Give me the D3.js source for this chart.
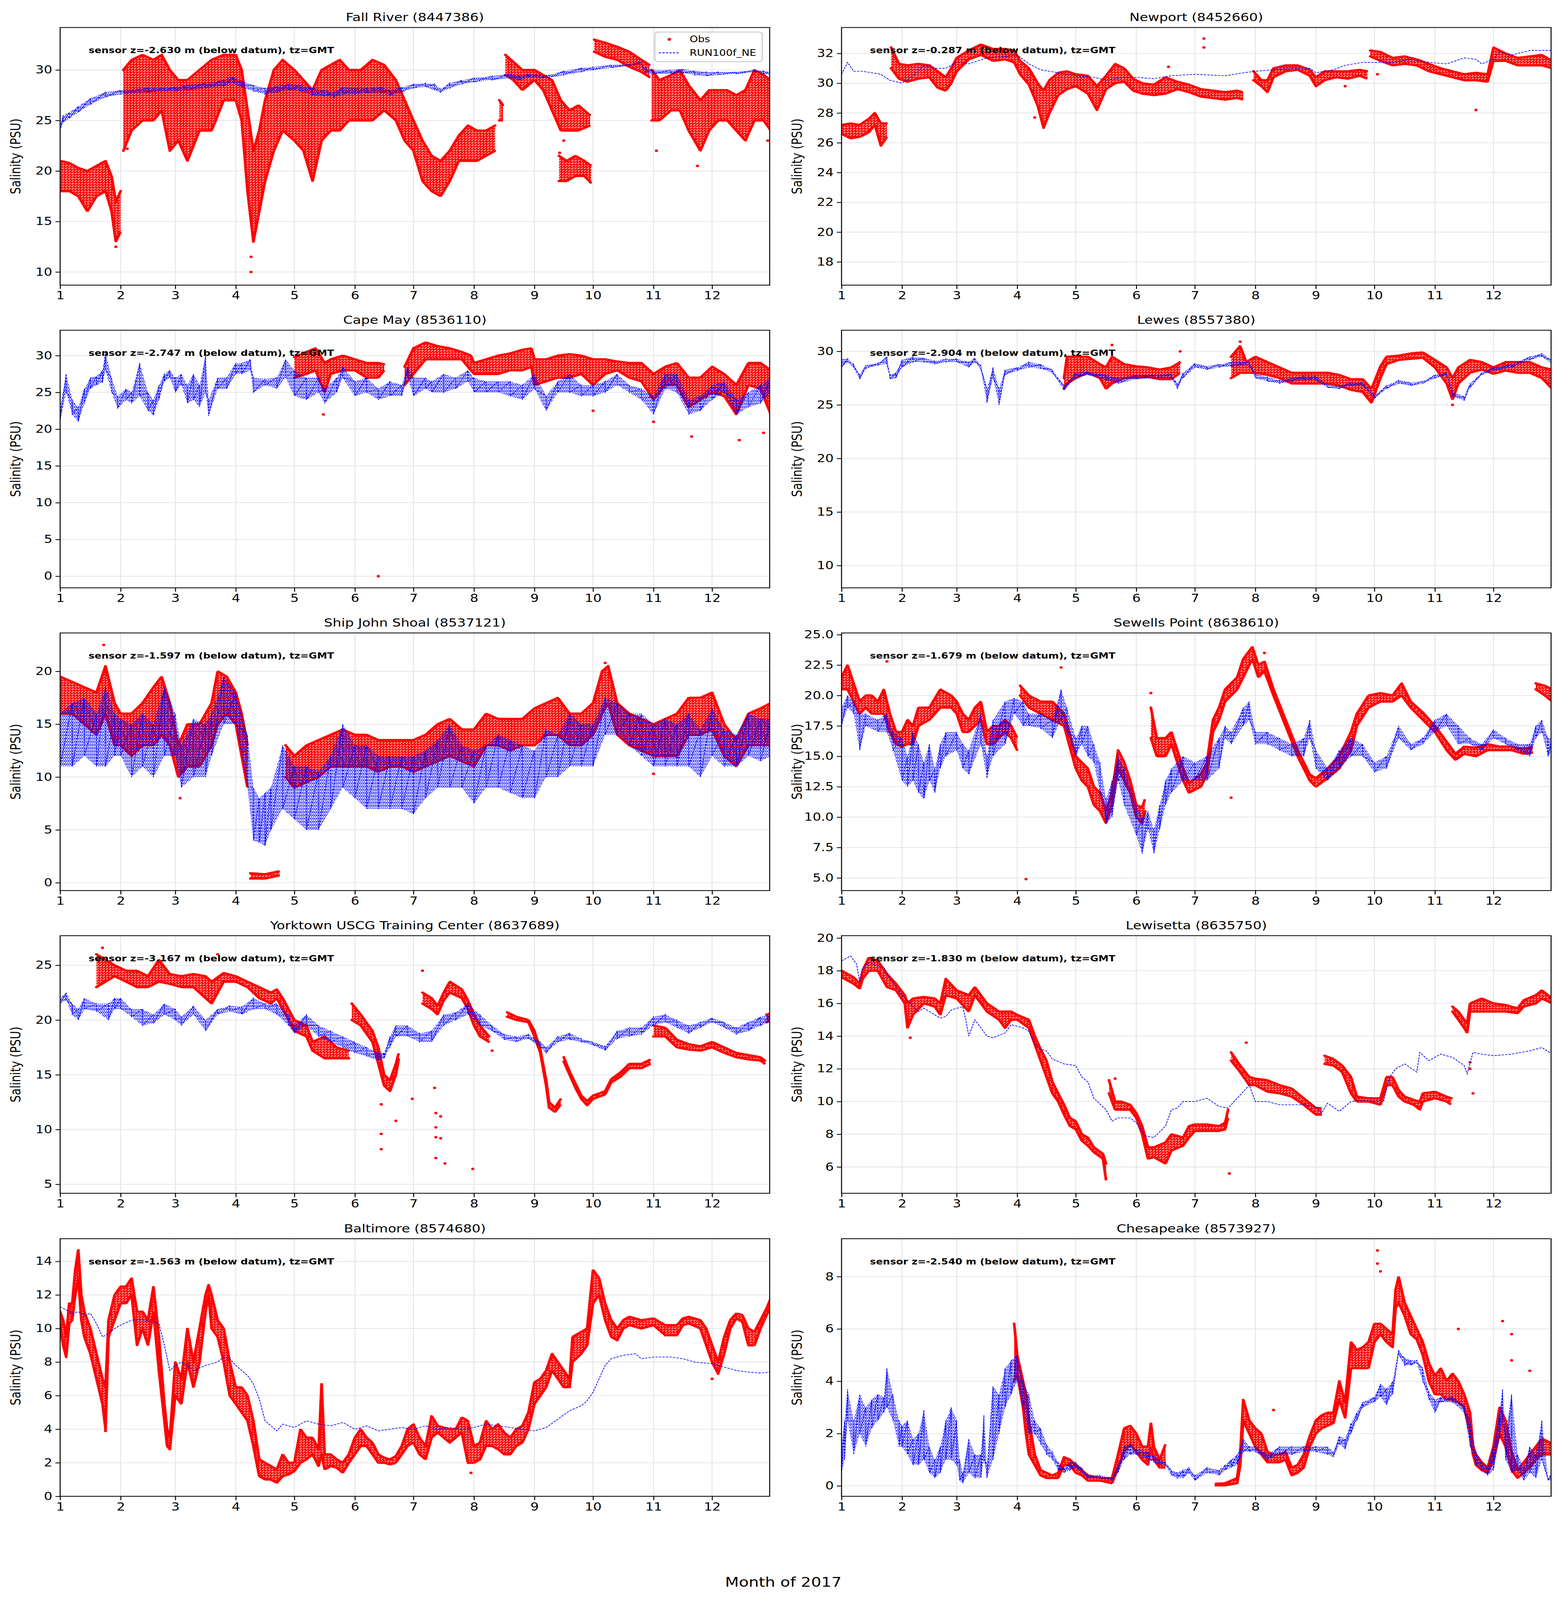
<!DOCTYPE html>
<html>
<head>
<meta charset="utf-8">
<script src="https://cdn.jsdelivr.net/npm/d3@7"></script>
<style>
  html, body { margin: 0; background: #fff; overflow: hidden; }
  svg { display: block; width: 100vw; height: 100vh; }
  text { font-family: "DejaVu Sans", sans-serif; }
</style>
</head>
<body>
<svg id="fig" viewBox="0 0 4000 5000" preserveAspectRatio="none"></svg>
<script>
// ---- data (time as month + fraction of month, salinity in PSU) ----
// obs / model rows are [t, low, high]; null marks a gap
const titles = ["Fall River (8447386)", "Newport (8452660)", "Cape May (8536110)", "Lewes (8557380)",
  "Ship John Shoal (8537121)", "Sewells Point (8638610)", "Yorktown USCG Training Center (8637689)",
  "Lewisetta (8635750)", "Baltimore (8574680)", "Chesapeake (8573927)"];
const sensorZ = ["-2.630", "-0.287", "-2.747", "-2.904", "-1.597", "-1.679", "-3.167", "-1.830", "-1.563", "-2.540"];
const yDomains = [[8.7, 34.2], [16.44, 33.74], [-1.58, 33.45], [7.92, 31.97], [-0.74, 23.63],
  [3.96, 25.14], [4.18, 27.7], [4.39, 20.14], [0, 15.35], [-0.4, 9.45]];
const yTicks = [[10, 15, 20, 25, 30], [18, 20, 22, 24, 26, 28, 30, 32], [0, 5, 10, 15, 20, 25, 30],
  [10, 15, 20, 25, 30], [0, 5, 10, 15, 20], [5, 7.5, 10, 12.5, 15, 17.5, 20, 22.5, 25],
  [5, 10, 15, 20, 25], [6, 8, 10, 12, 14, 16, 18, 20], [0, 2, 4, 6, 8, 10, 12, 14], [0, 2, 4, 6, 8]];
const monthTicks = [1, 2, 3, 4, 5, 6, 7, 8, 9, 10, 11, 12];

const frObs = [[1.0,18,21],[1.15,18,20.8],[1.3,17.5,20.3],[1.45,16,20],[1.6,17.5,20.5],[1.75,18,21],[1.85,16,19.5],[1.92,13,17],[2.0,14,18],null,
  [2.05,22,30],[2.2,24,31],[2.4,25,31.5],[2.6,25,31],[2.75,26,31.5],[2.9,22,30],[3.05,23,29],[3.2,21,29],[3.4,24,30],[3.6,24,31],[3.8,27,31.5],[4.0,27,31.5],
  [4.1,25,30],[4.2,18,26],[4.3,13,22],[4.4,16,24],[4.5,19,27],[4.65,22,30],[4.8,24,31],[5.0,23,30],[5.15,22,29],[5.3,19,28],[5.45,23,30],[5.6,24,30.5],
  [5.75,24,31],[5.9,25,30],[6.1,25,30],[6.3,25,31],[6.5,26,30.5],[6.7,25,29],[6.85,23,27],[7.0,22,25],[7.15,19,23],[7.3,18,21.5],[7.45,17.5,21],[7.6,19,22],
  [7.75,21,23.5],[7.9,21,24.5],[8.05,21,24],[8.2,21.5,24],[8.35,22,24.5],null,[8.42,25,27],[8.48,25,26.5],null,[8.52,29.5,31.5],[8.65,29,30.8],[8.8,28,30],
  [9.0,29,30],[9.15,28,29.5],[9.3,26,29],[9.45,24,27],[9.6,24,26],[9.75,24,26.5],[9.95,24.5,25.5],null,[10.02,31.8,33],[10.2,31.3,32.7],[10.4,31,32.3],
  [10.6,30.3,31.8],[10.8,29.8,31],[10.93,29.3,30.5],null,[10.97,25,30],[11.1,25,29],[11.3,26,29.5],[11.45,26,30],[11.6,24,28.5],[11.8,22,27],[11.95,24,28],
  [12.1,25,28],[12.25,25,28],[12.4,24,27.5],[12.55,23,28],[12.7,25,30],[12.85,25,29.5],[12.97,24,29]];
const frObs2 = [[9.42,19,21.5],[9.55,19,21],[9.7,19.5,21.5],[9.85,19.5,21],[9.97,18.8,20.5]];
const frModel = [[1.0,24.0,24.6],[1.05,24.8,25.5],[1.15,25.2,25.8],[1.3,25.8,26.4],[1.5,26.6,27.2],[1.75,27.3,27.8],[2.0,27.6,28.0],[2.5,27.8,28.2],
  [2.8,27.9,28.2],[3.0,27.9,28.3],[3.2,28.0,28.5],[3.5,28.2,28.7],[3.8,28.4,29.0],[3.95,28.7,29.3],[4.1,28.3,28.9],[4.3,27.9,28.5],[4.5,27.6,28.2],
  [4.7,27.8,28.4],[4.9,28.0,28.6],[5.1,27.9,28.5],[5.3,27.5,28.2],[5.5,27.4,28.0],[5.65,27.3,27.8],[5.8,27.6,28.3],[6.0,27.6,28.2],[6.2,27.7,28.2],
  [6.45,27.8,28.3],[6.6,27.5,28.0],[6.8,27.8,28.3],[7.0,28.2,28.6],[7.2,28.3,28.7],[7.35,28.0,28.6],[7.45,27.8,28.1],[7.6,28.2,28.7],[7.8,28.6,29.0],
  [8.0,28.8,29.2],[8.3,29.0,29.4],[8.6,29.2,29.6],[8.75,29.0,29.4],[8.9,29.3,29.6],[9.1,29.2,29.5],[9.25,29.2,29.5],[9.5,29.5,29.9],[9.8,29.8,30.2],
  [10.0,30.0,30.3],[10.3,30.2,30.5],[10.6,30.4,30.6],[10.8,30.5,30.8],[10.85,29.8,30.2],[11.0,29.6,30.0],[11.3,29.6,30.0],[11.5,29.7,30.1],
  [11.7,29.5,29.9],[11.9,29.4,29.8],[12.1,29.5,29.8],[12.4,29.6,29.8],[12.7,29.8,30.0],[12.85,29.6,29.9],[12.97,29.5,29.8]];
const frPts = [[1.92,12.5],[4.26,10.0],[4.26,11.5],[4.3,13.5],[4.35,14.5],[2.12,22.2],[9.43,21.8],[12.92,23.0],[11.05,22],[11.75,20.5],[9.5,23]];

const nwObs = [[1.0,26.6,27.2],[1.15,26.3,27.3],[1.3,26.4,27.2],[1.45,26.7,27.6],[1.55,27.2,28.0],[1.65,25.8,27.3],[1.75,26.4,27.3],null,
  [1.82,31.0,32.4],[1.95,30.3,31.3],[2.1,30.1,31.2],[2.3,30.3,31.3],[2.5,30.4,31.2],[2.65,29.7,30.8],[2.8,29.5,30.4],[2.9,30.0,31.0],[3.0,30.8,31.7],
  [3.2,31.6,32.2],[3.4,31.9,32.6],[3.6,31.5,32.3],[3.8,31.6,32.3],[3.95,31.4,32.2],[4.05,30.6,31.5],[4.2,29.9,31.0],[4.35,28.5,30.0],[4.45,27.0,29.5],
  [4.55,28.0,30.2],[4.7,29.2,30.7],[4.85,29.6,30.8],[5.0,29.8,30.6],[5.2,29.3,30.5],[5.35,28.2,29.8],[5.5,29.6,30.5],[5.65,30.0,31.3],[5.8,30.1,31.0],
  [5.95,29.5,30.3],[6.1,29.3,30.0],[6.3,29.2,29.9],[6.5,29.3,30.4],[6.7,29.6,30.1],[6.9,29.4,29.9],[7.1,29.1,29.6],[7.3,29.0,29.5],[7.5,28.9,29.4],
  [7.7,29.0,29.5],[7.8,28.9,29.4],null,[7.97,30.2,30.8],[8.1,29.8,30.2],[8.2,29.4,30.2],[8.3,30.4,31.0],[8.5,30.8,31.2],[8.7,30.9,31.2],[8.9,30.5,30.9],
  [9.0,29.8,30.4],[9.15,30.2,30.8],[9.35,30.4,30.8],[9.55,30.3,30.8],[9.75,30.5,30.9],[9.88,30.3,30.8],null,[9.93,31.8,32.2],[10.1,31.5,32.1],
  [10.3,31.2,31.7],[10.5,31.3,31.8],[10.7,31.2,31.6],[10.9,30.8,31.3],[11.1,30.6,31.0],[11.3,30.4,30.8],[11.5,30.2,30.6],[11.7,30.2,30.7],
  [11.9,30.1,30.6],[12.0,31.5,32.4],[12.2,31.5,32.0],[12.4,31.2,31.7],[12.6,31.2,31.8],[12.8,31.2,31.9],[12.97,31.0,31.5]];
const nwModel = [[1.0,30.6],[1.1,31.4],[1.2,30.8],[1.35,30.8],[1.5,30.7],[1.65,30.6],[1.8,30.2],[2.0,30.0],[2.2,30.5],[2.4,31.2],[2.6,31.0],[2.8,31.0],
  [3.0,31.4],[3.2,31.3],[3.5,31.7],[3.8,31.8],[4.0,31.9],[4.2,31.3],[4.4,30.9],[4.7,30.7],[5.0,30.5],[5.3,30.4],[5.5,30.2],[5.8,30.4],[6.0,30.4],
  [6.3,30.3],[6.6,30.5],[7.0,30.6],[7.5,30.5],[7.8,30.7],[8.0,30.8],[8.3,30.9],[8.6,31.0],[8.9,31.0],[9.0,30.7],[9.3,30.9],[9.5,31.2],[9.8,31.4],
  [10.0,31.4],[10.3,31.4],[10.6,31.6],[10.9,31.4],[11.2,31.3],[11.5,31.7],[11.7,31.6],[11.8,31.3],[12.0,31.6],[12.1,32.1],[12.3,31.9],[12.6,32.2],[12.97,32.2]];
const nwPts = [[7.15,33.0],[7.15,32.4],[11.7,28.2],[6.55,31.1],[9.5,29.8],[10.05,30.6],[4.3,27.7]];

const cmObs = [[5.0,27,29.8],[5.2,27.5,30.5],[5.35,28,31],[5.5,25,29],[5.6,27.5,29.5],[5.8,28,30],[6.0,28,29.5],[6.2,27,29],[6.4,27,29],[6.5,28,28.8],null,
  [6.85,26,28.5],[7.0,27.5,31],[7.2,29.5,31.8],[7.4,29.5,31.3],[7.6,29.5,31.0],[7.8,29.5,30.5],[7.95,28,30],[8.0,27.5,29],[8.2,27.5,29.5],[8.4,27.5,30],
  [8.6,28,30.3],[8.8,28,30.8],[8.95,28.5,31],[9.0,26,29.5],[9.2,26.5,29.5],[9.4,27,30],[9.6,27,30.2],[9.8,27.5,30],[10.0,26,29.5],[10.2,27.5,29.5],
  [10.4,28,29.2],[10.6,27,29],[10.8,26.5,29],[11.0,24,27.5],[11.2,26,28.5],[11.4,26,29],[11.6,23,27],[11.8,24,27],[12.0,25,28.5],[12.2,24.5,27.5],
  [12.4,22,26],[12.6,26,29],[12.8,25.5,29],[12.97,22,28]];
const cmModel = [[1.0,21.2,23],[1.1,25,27.5],[1.2,22,24],[1.3,21,23],[1.4,23.5,25.5],[1.5,25.5,27],[1.6,26,27.2],[1.7,26.3,28],[1.75,28,30.5],[1.85,25,27],
  [1.95,22.8,24.5],[2.1,24,25.5],[2.2,23.5,25],[2.35,24.5,29],[2.5,22.5,25],[2.6,21.9,24],[2.7,24,26],[2.8,26.5,27.5],[2.9,27,28],[3.0,25,27],[3.1,26,27.5],
  [3.2,23.5,26],[3.3,24,27.5],[3.4,23,26],[3.5,25,30],[3.55,21.8,24],[3.7,25.5,27],[3.85,25.5,27],[4.0,27.5,29],[4.1,27.5,29],[4.25,28,29.5],[4.3,25,27],
  [4.5,26,26.8],[4.7,25.5,27],[4.85,27,29.5],[5.0,24.5,28],[5.2,24,27],[5.4,25,27],[5.5,23.5,25.5],[5.7,25,27],[5.8,27,28.5],[6.0,24.5,26.5],[6.2,25,27],
  [6.4,24,25.5],[6.6,24.5,26.5],[6.8,24.5,26],[6.9,27,28.5],[7.0,24.5,27],[7.2,25.5,27],[7.3,25,26.5],[7.5,25,27.5],[7.7,25.5,27],[7.9,26.5,28],[8.0,25,27],
  [8.2,25,26.5],[8.4,25,26.5],[8.6,24.5,26.5],[8.8,24,26],[9.0,25.5,27.5],[9.2,22.5,24.5],[9.4,25,26.5],[9.6,25,27.5],[9.8,24.5,26],[10.0,24.5,26],
  [10.2,25,26.5],[10.4,26,27.5],[10.6,25,26],[10.8,24,25.5],[11.0,22,24.5],[11.2,25.5,27.5],[11.4,25,27.5],[11.6,22,24],[11.8,22.5,24.5],[12.0,24,26],
  [12.2,25,26.5],[12.4,22,24],[12.6,23,25],[12.8,23.5,26],[12.97,25,27]];
const cmPts = [[6.4,0.0],[5.48,22.0],[11.65,19.0],[12.45,18.5],[11.0,21.0],[12.85,19.5],[10.0,22.5]];

const lwObs = [[4.8,26.5,27.5],[4.85,27,29.5],[5.0,27.5,29.5],[5.2,28,29.5],[5.4,27.5,28.8],[5.5,26.5,28.5],[5.6,27,29.5],[5.8,27.5,28.8],[6.0,27.6,28.6],
  [6.2,27.6,28.5],[6.4,27.4,28.3],[6.6,27.4,28.5],[6.75,28,29],null,[7.6,27.5,29.5],[7.75,28,30.5],[7.85,28,29],[8.0,28,29.5],[8.2,27.8,29],[8.4,27.5,28.5],
  [8.6,27,28],[8.8,27,28],[9.0,27,28],[9.2,27,28],[9.4,26.8,27.8],[9.6,26.4,27.4],[9.8,26.2,27.4],[9.95,25.2,26.5],[10.1,27.5,28.6],[10.2,28.8,29.5],
  [10.4,29.2,29.6],[10.6,29.3,29.8],[10.8,29.4,29.9],[11.0,28.5,29.2],[11.2,27,28.5],[11.3,25.5,27.5],[11.4,27,28.5],[11.6,28,29.2],[11.8,28.3,29],
  [12.0,27.9,28.5],[12.2,28.2,29],[12.4,28,29],[12.6,28,29],[12.8,27.5,28.5],[12.97,26.5,28.3]];
const lwModel = [[1.0,28.5,29.3],[1.1,29,29.3],[1.2,28.5,28.8],[1.3,27.4,27.8],[1.4,28.4,28.7],[1.6,28.7,28.9],[1.75,28.8,29.5],[1.8,27.4,27.8],
  [1.9,27.5,28],[2.0,28.5,29.2],[2.2,29.0,29.5],[2.4,29.0,29.4],[2.6,28.8,29.1],[2.8,29.0,29.3],[3.0,29.0,29.3],[3.2,28.5,29],[3.3,29,29.4],
  [3.4,28.3,28.7],[3.5,25.2,26.5],[3.6,27.5,28.5],[3.7,25,26.5],[3.8,27.8,28.3],[4.0,28.2,28.5],[4.2,28.5,29],[4.4,28.4,28.8],[4.6,28.0,28.3],
  [4.8,26.4,26.8],[5.0,27.5,28],[5.2,27.8,28.1],[5.5,27.3,27.8],[5.7,27.0,27.5],[6.0,27.4,27.8],[6.3,27.5,27.8],[6.6,27.5,27.9],[6.7,26.5,27],
  [6.8,27.5,28],[7.0,28.5,28.9],[7.2,28.3,28.6],[7.4,28.5,28.8],[7.6,28.6,29],[7.9,28.7,29],[8.0,27.5,27.9],[8.2,27.2,27.6],[8.4,27.0,27.3],
  [8.6,27.2,27.5],[8.8,27.3,27.7],[9.0,27.3,27.7],[9.2,26.6,26.9],[9.4,26.5,26.8],[9.6,26.8,27.1],[9.8,26.8,27.1],[10.0,25.6,25.9],[10.2,26.5,26.8],
  [10.4,27.0,27.3],[10.6,26.8,27.1],[10.8,27.0,27.2],[11.0,27.5,27.8],[11.2,27.8,28],[11.3,25.8,26.2],[11.5,25.4,25.8],[11.6,26.6,27],[11.8,27.8,28],
  [12.0,28.2,28.5],[12.3,28.5,28.8],[12.6,29.2,29.5],[12.8,29.5,29.8],[12.97,28.8,29.2]];
const lwPts = [[5.6,30.6],[6.75,30.0],[7.75,30.9],[11.3,25.0],[12.97,30.0]];

const sjObs = [[1.0,16,19.5],[1.2,16,19],[1.4,15,18.5],[1.6,14,18],[1.75,16,20.5],[1.9,13,17],[2.0,13,16],[2.2,12,16],[2.4,13,17],[2.6,13,18.5],
  [2.75,14,19.5],[2.9,13,17],[3.05,10,13],[3.2,11,15],[3.4,11,15],[3.6,13,17],[3.7,15,20],[3.85,16,19.5],[4.0,15,18],[4.1,12,16],[4.2,9,13],null,
  [4.85,10,13],[5.0,9,12],[5.2,9.5,13],[5.4,10,13.5],[5.6,11,14],[5.8,11,14.5],[6.0,11,14],[6.2,11,14],[6.4,10.5,13.5],[6.6,11,13.5],[6.8,11,13.5],
  [7.0,10.5,13.5],[7.2,11,14],[7.4,11.5,15],[7.6,12,15.5],[7.8,11.5,14.5],[8.0,11,14.5],[8.2,13,16],[8.4,13,15.5],[8.6,12.5,15.5],[8.8,13,15.5],
  [9.0,13,16.5],[9.2,14,17],[9.4,14,17.5],[9.6,13,16],[9.8,13,16],[10.0,14,17],[10.15,16,20],[10.25,17,20.5],[10.4,14,17],[10.6,13,16],[10.8,12.5,15.5],
  [11.0,12,15],[11.2,12,15.5],[11.4,12,16],[11.6,14,17.5],[11.8,14,17.5],[12.0,14.5,18],[12.2,12,15],[12.4,11,13.5],[12.6,13,16],[12.8,13,16.5],[12.97,13,17]];
const sjObs2 = [[4.25,0.4,0.9],[4.5,0.4,0.8],[4.75,0.7,1.1]];
const sjModel = [[1.0,11,16],[1.2,11,17],[1.4,12,17.5],[1.6,11,16],[1.75,11,18.5],[1.9,12,16],[2.0,12,15.5],[2.2,10,15],[2.4,11,16],[2.6,10,15],
  [2.8,12,18.5],[3.0,12,16],[3.1,9,13],[3.3,10,15.5],[3.5,10,15],[3.6,12,16],[3.8,15,19.5],[4.0,15,18],[4.2,9,14],[4.3,4,9],[4.4,3.8,8],[4.5,3.5,8.5],
  [4.6,5,9],[4.8,7,13],[5.0,6,11],[5.2,5,11],[5.4,5,10.5],[5.6,7,12],[5.8,9,15],[6.0,8,13],[6.2,7,13],[6.4,7,12],[6.6,7,12],[6.8,7,12],[7.0,6.5,12],
  [7.2,8,12.5],[7.4,9,13.5],[7.6,9,15],[7.8,9,13],[8.0,7.5,12.5],[8.2,9,13],[8.4,9,14],[8.6,8.5,13.5],[8.8,8,13],[9.0,8,12.5],[9.2,10,14.5],[9.4,10,14],
  [9.6,11,16],[9.8,11,15],[10.0,11,15],[10.2,14,17.5],[10.4,14,17],[10.6,13,16],[10.8,12,16],[11.0,11,15],[11.2,11,15.5],[11.4,11,15],[11.6,11,16],
  [11.8,10,14.5],[12.0,12,16.5],[12.2,11,14.5],[12.4,11,14],[12.6,12,16],[12.8,11.5,15.5],[12.97,12,15.5]];
const sjPts = [[1.72,22.5],[3.08,8.0],[12.97,18.3],[10.2,20.8],[11.0,10.3]];

const spObs = [[1.0,20.5,21.5],[1.1,20.5,22.5],[1.2,19.5,21],[1.3,18.5,19.5],[1.4,19,20],[1.5,18.5,20],[1.6,18.5,19.5],[1.7,18.5,20.5],[1.8,17,18.5],
  [1.9,16,17],[2.0,15.8,17],[2.1,16,18],[2.2,16,17.5],[2.3,17.5,19],[2.5,18,19],[2.7,19,20.5],[2.9,19,20],[3.0,18.5,19.5],[3.1,17,18.5],[3.2,17,18],
  [3.3,17.5,19],[3.4,18,19.5],[3.5,16,17],[3.6,16,17.5],[3.7,16.5,17.5],[3.8,17,18],[3.9,16.5,17.5],[4.0,15.5,16.5],null,[4.05,20,20.8],[4.2,19,20],
  [4.4,18.5,19.5],[4.6,18,19.5],[4.8,17.5,18.5],[5.0,14,15],[5.1,13,14.5],[5.2,12.5,14],[5.3,11,12.5],[5.4,10.5,12],[5.5,9.5,10.5],[5.6,11,12],
  [5.7,14,15.5],[5.8,13,14.5],[5.9,12,13],[6.0,10,11],[6.1,9.5,10.8],[6.15,10.5,11.5],null,[6.25,16.5,19],[6.35,15,16.5],[6.5,15,16.5],[6.6,16,17],
  [6.8,13,14],[6.9,12,12.8],[7.1,12.5,13.5],[7.2,13.5,14.5],[7.3,17,18],[7.4,18,19],[7.5,19.5,20.5],[7.7,20.5,21.5],[7.8,21.5,23],[7.95,23,24],
  [8.05,21.5,22.5],[8.15,22,22.8],[8.3,20,20.5],[8.5,17.5,18],[8.7,15,15.5],[8.9,13,13.5],[9.0,12.5,13.2],[9.2,13.2,14],[9.4,14,15],[9.6,15.5,17],
  [9.7,17.5,18.5],[9.9,19,20],[10.1,19.5,20.2],[10.3,19.5,20],[10.45,20,21],[10.6,19,19.5],[10.8,18,18.6],[11.0,17,17.5],[11.2,15.5,16.2],
  [11.35,14.7,15.2],[11.5,15.2,15.8],[11.7,15,15.7],[11.9,15.5,16],[12.1,15.5,15.8],[12.3,15.5,15.8],[12.5,15.2,15.6],[12.65,15.3,15.8],null,
  [12.7,20.5,21],[12.85,20,20.8],[12.97,19.5,20.5]];
const spModel = [[1.0,17.5,19],[1.1,19,20],[1.2,18.5,19.5],[1.3,15.5,18.5],[1.4,17.5,18.5],[1.6,17,18],[1.75,17,18.5],[1.85,15.5,17],[2.0,13,16.5],
  [2.1,12.5,15],[2.2,13,17],[2.3,12,16],[2.4,11.5,14.5],[2.5,13,16],[2.6,12,14],[2.7,14,16],[2.8,15,17],[3.0,15.5,17],[3.1,14,16],[3.2,13.5,15.5],
  [3.4,16,18.5],[3.5,13.2,15],[3.6,15,18],[3.8,16,19.5],[3.95,18.5,19.8],[4.1,17.5,19.5],[4.2,17.5,18.5],[4.4,17.3,18.5],[4.6,16.5,18],[4.75,18,20.5],
  [4.85,17,19],[5.0,15,16.5],[5.1,16,17.5],[5.2,15,17.5],[5.3,14.5,16],[5.4,12,14.5],[5.5,9.5,11.5],[5.6,10,13],[5.7,13,15],[5.8,11,14],[6.0,8.5,11],
  [6.1,7,10],[6.2,9,10.5],[6.3,7,9],[6.4,9,11],[6.5,11,13],[6.6,12,14],[6.8,13,15],[7.0,13,14.5],[7.2,13,15],[7.4,14,16.5],[7.5,16.5,17.5],[7.6,16,17],
  [7.8,17.5,19],[7.9,18,19.5],[8.0,16,17],[8.2,16,17],[8.4,15.5,16.5],[8.6,15,16],[8.8,15,16.5],[8.9,16.5,18],[9.0,14,15.5],[9.2,13,14],[9.4,14,15.5],
  [9.6,15,16.5],[9.8,15,16],[10.0,13.7,14.5],[10.2,14,15],[10.4,16.5,17.5],[10.6,15.5,16],[10.8,16,16.5],[11.0,17,18],[11.2,17.5,18.5],[11.4,16,17.5],
  [11.6,16,16.5],[11.8,15.5,16],[12.0,16.5,17.2],[12.2,16,16.5],[12.4,15.5,16],[12.6,15,16],[12.7,16.5,17.5],[12.8,17,18],[12.9,15,16.5],[12.97,15.5,16.5]];
const spPts = [[4.15,4.9],[4.75,22.3],[1.75,22.8],[7.6,11.6],[8.15,23.5],[6.25,20.2]];

const ykObs = [[1.6,23,26],[1.75,23.5,25.5],[1.9,24,25],[2.1,23.5,24.5],[2.3,23,24.5],[2.5,23,24],[2.7,23.5,25.5],[2.9,23.3,24.2],[3.1,23,24],[3.3,23,24.2],
  [3.5,22,24],[3.6,21.5,23.5],[3.8,23.5,24.3],[4.0,23.5,24],[4.2,23,23.5],[4.4,22,23],[4.6,21.5,22.5],[4.7,22,22.8],[4.8,21,22],[5.0,19,20],[5.2,18.5,19.5],
  [5.3,17.2,18],[5.5,16.5,18.5],[5.7,16.5,17.5],[5.9,16.5,17.2],null,[5.95,20,21.5],[6.1,19.5,20.5],[6.3,18,19],[6.4,16,17.5],[6.5,14,15],[6.6,13.5,14.5],
  [6.7,15,16],[6.75,16.5,17],null,[7.15,21.5,22.5],[7.3,21,22],[7.4,20.5,21.3],[7.5,21.8,22.5],[7.6,22.5,23.5],[7.8,22,22.8],[7.9,21,21.8],[8.0,19.5,20.5],
  [8.1,18.5,19.5],[8.25,18,18.5],null,[8.55,20.3,20.7],[8.7,20,20.3],[8.9,19.8,20],[9.0,18.5,19],[9.1,17,17.3],[9.2,14,14.5],[9.25,12,12.5],[9.35,11.6,12],
  [9.45,12.3,12.8],null,[9.5,16.2,16.6],[9.6,15,15.3],[9.7,13.8,14.2],[9.8,12.8,13.1],[9.9,12.2,12.6],[10.0,12.8,13.1],[10.1,13,13.3],[10.2,13.2,13.5],
  [10.3,14.3,14.6],[10.45,14.8,15.2],[10.6,15.6,16],[10.8,15.6,16],[10.95,16,16.4],null,[11.0,18.5,19.5],[11.2,18.5,19.3],[11.4,17.5,18.2],[11.6,17.3,17.8],
  [11.8,17.2,17.6],[12.0,17.5,18],[12.2,17,17.5],[12.4,16.6,17],[12.6,16.4,16.8],[12.8,16.3,16.6],[12.87,16,16.3],null,[12.9,19.8,20.5],[12.97,20,20.6]];
const ykModel = [[1.0,21.5,22],[1.1,21.8,22.5],[1.2,20.5,21.5],[1.3,20,21],[1.4,21,22],[1.6,20.8,21.5],[1.8,20,21.5],[1.9,21,22],[2.0,21,22],
  [2.2,20.3,21],[2.4,19.5,21],[2.6,19.7,20.5],[2.8,20.5,21.5],[3.0,20,21],[3.1,19.5,20.3],[3.3,20.5,21.3],[3.5,19,20],[3.7,20.5,21],[3.9,20.8,21.3],
  [4.1,20.5,21.2],[4.3,21,22],[4.5,21,21.5],[4.7,20.5,21.5],[4.9,19.5,20.5],[5.0,18.8,19.5],[5.2,19.5,20.5],[5.4,18.5,19.5],[5.6,18,19],[5.8,17.5,18.5],
  [6.0,17,18],[6.2,16.7,17.5],[6.4,16.3,17],[6.5,16.5,17],[6.6,17.5,18.5],[6.7,18.5,19.5],[6.9,18.5,19.5],[7.1,18,18.8],[7.3,18,19],[7.5,19.5,20.5],
  [7.7,20,20.7],[7.9,20.5,21.5],[8.1,19.5,20.5],[8.3,19,19.5],[8.5,18.2,18.7],[8.7,18,18.5],[8.9,18.3,18.7],[9.1,17.5,18],[9.2,17,17.5],[9.4,18,18.5],
  [9.6,18.2,18.8],[9.8,18,18.3],[10.0,17.7,18],[10.2,17.2,17.6],[10.4,18.3,19],[10.6,18.5,19.3],[10.8,18.7,19.3],[11.0,19.5,20.3],[11.2,19.8,20.5],
  [11.4,19.3,20],[11.6,18.8,19.5],[11.8,19.3,19.8],[12.0,19.8,20.2],[12.2,19.3,19.8],[12.4,18.7,19.3],[12.6,19,19.8],[12.8,19.5,20.3],[12.97,19.8,20.5]];
const ykPts = [[6.45,12.3],[6.45,9.6],[6.45,8.2],[6.7,10.8],[6.98,12.8],[7.15,24.5],[7.35,13.8],[7.37,11.5],[7.37,10.2],[7.37,9.3],[7.37,7.4],
  [7.45,11.2],[7.45,9.2],[7.52,6.9],[7.98,6.4],[8.3,17.2],[3.7,26],[1.7,26.6]];

const lsObs = [[1.0,17.6,18],[1.2,17.2,17.6],[1.3,16.9,17.2],[1.35,17.5,18],[1.45,18,18.8],[1.6,18,18.6],[1.75,17,17.8],[1.9,16.8,17.2],[2.05,16,16.5],
  [2.1,14.5,16],[2.2,15.3,16.3],[2.4,16,16.4],[2.6,15.8,16.3],[2.7,15.3,16],[2.8,16.5,17.5],[3.0,16.3,16.8],[3.2,15.5,16.5],[3.3,16.5,17],[3.5,15.5,16],
  [3.7,15,15.5],[3.8,14.5,15.5],[3.9,15,15.5],[4.0,15,15.3],[4.2,14.5,15],[4.3,13.5,14],[4.4,12.5,13.2],[4.5,11.5,12.5],[4.6,10.5,11.2],[4.7,10,10.5],
  [4.8,9.2,9.8],[4.9,8.5,9],[5.0,8.3,8.8],[5.1,7.6,8],[5.2,7.3,7.8],[5.3,6.9,7.2],[5.45,6.5,6.8],[5.5,5.2,6.2],null,[5.55,10.5,11.3],[5.65,9.5,10],
  [5.75,9.5,10],[5.9,9.5,9.8],[6.0,9,9.3],[6.1,8,8.5],[6.2,6.5,7.2],[6.3,6.6,7.2],[6.5,6.2,7.5],[6.6,7,8],[6.8,7.3,7.8],[6.9,7.8,8.5],[7.0,8.2,8.6],
  [7.2,8.2,8.6],[7.4,8.2,8.5],[7.5,8.3,8.7],[7.55,9,9.5],null,[7.6,12.5,13],[7.75,11.8,12.2],[7.9,11,11.5],[8.0,11,11.4],[8.2,10.6,11.3],[8.4,10.5,11],
  [8.6,10.3,10.8],[8.8,9.8,10.2],[9.0,9.2,9.6],[9.1,9.2,9.6],null,[9.15,12.3,12.8],[9.3,12.2,12.6],[9.45,11.8,12.2],[9.6,10.5,11.5],[9.7,10,10.3],
  [9.9,10,10.2],[10.1,9.8,10.2],[10.2,11,11.5],[10.3,11,11.5],[10.4,10.3,10.7],[10.5,10,10.3],[10.65,9.8,10.1],[10.75,9.5,10],[10.8,10,10.5],
  [11.0,10.2,10.6],[11.2,10,10.3],[11.28,9.8,10.2],null,[11.3,15.5,15.8],[11.4,15,15.5],[11.5,14.5,15],[11.55,14.2,14.8],[11.6,15.5,16],[11.8,15.5,16.3],
  [12.0,15.5,16],[12.2,15.5,15.9],[12.4,15.4,15.7],[12.5,15.8,16.2],[12.7,16,16.5],[12.8,16.3,16.8],[12.97,16,16.3]];
const lsModel = [[1.0,18.6],[1.15,18.9],[1.25,18.4],[1.3,17.3],[1.35,18.2],[1.45,18.5],[1.6,18.3],[1.7,18.2],[1.8,17.5],[1.9,17],[2.0,16.5],[2.1,16.2],
  [2.2,15.8],[2.3,15.5],[2.4,15.7],[2.5,15.5],[2.6,15.3],[2.7,15.1],[2.8,15.2],[2.9,15.6],[3.0,15.7],[3.1,15.8],[3.15,15.0],[3.2,14.0],[3.3,15.0],
  [3.4,14.5],[3.5,14.0],[3.6,13.9],[3.8,14.2],[3.9,14.7],[4.0,14.6],[4.1,14.5],[4.2,14.3],[4.3,13.5],[4.4,13.2],[4.5,13.1],[4.6,12.6],[4.8,12.3],
  [5.0,12.2],[5.1,11.5],[5.2,11.2],[5.3,10.2],[5.5,9.5],[5.6,8.8],[5.7,9.0],[5.9,9.0],[6.0,8.7],[6.15,7.9],[6.3,7.8],[6.5,8.5],[6.6,9.5],[6.7,9.6],
  [6.8,10.0],[7.0,10.0],[7.2,10.2],[7.4,9.7],[7.55,9.6],[7.7,10.2],[7.9,11.0],[8.0,10.0],[8.2,10.0],[8.4,9.8],[8.6,9.8],[8.8,9.8],[9.0,9.7],[9.1,9.3],
  [9.2,9.9],[9.4,9.4],[9.6,10.0],[9.8,10.1],[10.0,10.0],[10.15,10.0],[10.25,11.5],[10.35,12.0],[10.5,12.3],[10.7,11.8],[10.75,13.0],[10.9,12.5],
  [11.1,12.9],[11.3,12.7],[11.5,12.2],[11.55,11.7],[11.65,13.0],[11.8,12.9],[12.0,12.8],[12.3,12.9],[12.6,13.1],[12.8,13.3],[12.97,12.9]];
const lsPts = [[7.57,5.6],[11.65,10.5],[7.85,13.6],[5.65,11.4],[2.15,13.9],[11.6,12.4],[11.6,12.0]];

const blObs = [[1.0,10.2,11],[1.05,9,10.5],[1.1,8.3,9.5],[1.15,10.3,11.5],[1.2,10.5,11.5],[1.25,12,13.5],[1.3,13,14.7],[1.35,10.5,12],[1.4,9.5,11],
  [1.5,8.5,10],[1.6,7,8.5],[1.7,5.5,7],[1.75,4,6.5],[1.8,9.5,10.5],[1.9,10.5,12],[2.0,11.5,12.5],[2.1,11.5,12.5],[2.2,12,13],[2.3,9,11],[2.4,10,11],
  [2.5,9,10.5],[2.6,11,12.5],[2.7,7.5,9.5],[2.8,4.5,5.5],[2.85,3,4],[2.9,2.8,3.5],[3.0,6,8],[3.1,5.5,7],[3.2,8,10],[3.3,6.5,8],[3.4,8,10],[3.5,11,12],
  [3.55,12,12.6],[3.6,10,12],[3.7,9.5,10.5],[3.8,8,10],[3.9,6,8],[4.0,5.5,6.5],[4.1,5,6.5],[4.2,4.5,6],[4.3,3,4.5],[4.4,1.2,2.2],[4.5,1,2],[4.6,1,1.8],
  [4.7,0.8,1.6],[4.8,1.2,2.5],[4.9,1.3,2],[5.0,1.5,2],[5.1,2,4],[5.2,2.2,3.5],[5.3,2.5,3.5],[5.4,1.8,2.8],[5.45,2.5,6.7],[5.5,1.6,2.5],[5.6,1.8,2.5],
  [5.7,1.7,2.2],[5.8,1.4,2.0],[5.9,2,2.5],[6.0,2.5,3.5],[6.1,3,4],[6.2,3,3.5],[6.3,2.5,3.2],[6.4,2,2.5],[6.5,2,2.3],[6.6,1.9,2.2],[6.7,2,2.4],
  [6.8,2.5,3],[6.9,3,4],[7.0,3.2,4.3],[7.1,2.5,3.5],[7.2,2.2,3],[7.3,3.5,4.8],[7.4,3.8,4.2],[7.5,3.5,4.1],[7.6,3.2,4],[7.7,3.5,4],[7.8,3.8,4.7],
  [7.9,2,4.5],[8.0,2,3],[8.1,2.2,3.2],[8.2,3,4.5],[8.3,3,4],[8.4,2.8,4.3],[8.5,2.5,3.8],[8.6,2.5,3.5],[8.7,3,4],[8.8,3.2,4.2],[8.9,4,5],[9.0,5.5,6.8],
  [9.1,6,7],[9.2,6.5,7.5],[9.3,7.5,8.5],[9.4,7,8],[9.5,6.5,7.5],[9.6,6.5,7],[9.65,8,9.5],[9.8,8.5,9.8],[9.9,9,10],[10.0,11.5,13.5],[10.1,12,13],
  [10.2,10.5,11.5],[10.3,9.5,10.5],[10.4,9.3,10],[10.5,10,10.5],[10.6,10.2,10.7],[10.8,10,10.5],[11.0,10.2,10.6],[11.2,9.6,10.2],[11.4,9.6,10.2],
  [11.5,10.2,10.6],[11.6,10.3,10.7],[11.8,10,10.5],[11.9,9,10],[12.0,8,9],[12.1,7.3,8],[12.2,8.5,9.5],[12.3,10,10.5],[12.4,10.6,10.9],[12.5,10.4,10.8],
  [12.6,9,10],[12.7,9,9.8],[12.8,10,10.5],[12.9,10.8,11.2],[12.97,11.3,11.8]];
const blModel = [[1.0,11.3],[1.1,11.1],[1.2,10.9],[1.3,11.0],[1.4,10.8],[1.5,10.9],[1.6,10.3],[1.7,9.5],[1.8,9.7],[1.9,10.0],[2.0,10.2],[2.2,10.5],
  [2.4,10.5],[2.6,10.4],[2.7,10.3],[2.8,9.0],[2.9,7.5],[3.0,7.8],[3.1,8.0],[3.2,7.8],[3.3,7.5],[3.5,7.8],[3.7,8.0],[3.8,8.3],[3.9,8.2],[4.0,7.8],
  [4.1,7.5],[4.2,7.2],[4.3,6.7],[4.4,5.8],[4.5,4.5],[4.6,4.2],[4.7,3.9],[4.8,4.3],[5.0,4.1],[5.2,4.5],[5.4,4.3],[5.6,4.2],[5.8,4.4],[6.0,4.0],[6.2,4.2],
  [6.4,3.9],[6.6,4.0],[6.8,4.1],[7.0,4.0],[7.2,4.2],[7.4,4.0],[7.6,4.1],[7.8,4.0],[8.0,4.1],[8.2,4.3],[8.4,4.2],[8.6,4.1],[8.8,4.0],[9.0,3.9],[9.2,4.1],
  [9.4,4.6],[9.6,5.1],[9.8,5.4],[9.9,5.7],[10.0,6.2],[10.1,7.0],[10.2,7.8],[10.3,8.2],[10.5,8.4],[10.7,8.5],[10.8,8.2],[11.0,8.3],[11.3,8.3],[11.5,8.2],
  [11.7,8.0],[12.0,7.9],[12.2,7.7],[12.4,7.5],[12.6,7.4],[12.8,7.35],[12.97,7.4]];
const blPts = [[7.95,1.4],[12.0,7.0],[1.75,3.9]];

const chObs = [[3.95,4,6.2],[4.0,4.3,5],[4.1,3,4],[4.15,2,3.5],[4.2,1.2,2.5],[4.3,0.8,1.2],[4.4,0.4,0.6],[4.5,0.3,0.5],[4.6,0.3,0.4],[4.7,0.3,0.5],
  [4.8,0.8,1.1],[4.9,0.8,1.0],[5.0,0.5,0.8],[5.1,0.4,0.6],[5.2,0.2,0.4],[5.4,0.2,0.3],[5.6,0.1,0.3],[5.7,0.7,1.2],[5.8,1.3,2.2],[5.9,1.6,2.3],[6.0,1.3,2],
  [6.1,1,1.5],[6.2,0.8,1.5],[6.25,1.5,2.4],[6.3,1,1.5],[6.4,0.7,1],[6.5,0.7,1.6],null,[7.35,0.02,0.08],[7.5,0.02,0.1],[7.7,0.1,0.3],[7.75,0.8,1.2],
  [7.8,2.5,3.3],[7.9,2,2.5],[8.0,1.5,2.2],[8.1,1.2,2],[8.2,0.9,1.3],[8.3,0.9,1.2],[8.4,0.9,1.2],[8.5,1,1.3],[8.6,0.4,0.7],[8.7,0.5,0.8],[8.8,0.7,1.2],
  [8.9,1.5,1.9],[9.0,2,2.5],[9.1,2.2,2.7],[9.2,2.3,2.8],[9.3,2.4,2.8],[9.4,3.3,4],[9.5,2.6,3.2],[9.6,4.5,5.5],[9.7,4.5,5.2],[9.8,4.5,5.3],[9.9,4.5,5.5],
  [10.0,5.5,6.2],[10.1,5.8,6.2],[10.2,5.5,6.0],[10.3,5.3,5.8],[10.35,6.8,7.5],[10.4,7,8],[10.5,6.5,7],[10.6,5.8,6.5],[10.7,5.6,6],[10.8,5,5.5],[10.9,4,4.7],
  [11.0,3.5,4.2],[11.1,3.5,4.5],[11.2,3.3,4],[11.3,3.3,4.3],[11.4,3.2,4],[11.5,3,3.5],[11.6,2,2.8],[11.65,1.2,1.5],[11.7,0.8,1.2],[11.8,0.6,0.9],
  [11.9,0.5,0.7],[12.0,1,1.5],[12.1,2,3],[12.2,1.5,2.5],[12.3,0.6,1.3],[12.4,0.3,0.6],[12.5,0.5,0.9],[12.6,0.7,1.2],[12.7,1,1.5],[12.8,1.2,1.8],
  [12.9,1.2,1.7],[12.97,1.2,1.6]];
const chModel = [[1.0,0.5,1.5],[1.05,1,2.5],[1.1,2.5,3.7],[1.2,1.2,2.5],[1.3,2,3.5],[1.4,1.5,3.0],[1.5,2.2,3.3],[1.6,2.5,3.5],[1.7,2.8,3.4],[1.75,3,4.5],
  [1.85,2.5,3.5],[1.95,1.5,2.5],[2.0,1.5,2.3],[2.1,1.2,2.5],[2.2,0.8,1.8],[2.3,0.8,2],[2.4,1,2.9],[2.5,0.5,1.5],[2.6,0.3,1],[2.7,0.5,1.5],[2.8,1,2.5],
  [2.9,1,3],[3.0,0.8,2.5],[3.05,0.2,1.0],[3.1,0.1,0.5],[3.2,0.5,1.8],[3.3,0.3,1.2],[3.4,0.3,1.2],[3.45,1,2.7],[3.5,0.3,0.8],[3.6,1,3.8],[3.7,2,3.5],
  [3.8,3,4.5],[3.9,3.5,4.8],[4.0,4,5.0],[4.1,3,4],[4.2,2,3.5],[4.3,2,2.5],[4.4,1.6,2.2],[4.5,1.2,1.6],[4.6,1,1.3],[4.7,0.6,0.9],[4.8,0.5,0.7],
  [4.9,0.6,0.9],[5.0,0.7,0.9],[5.1,0.5,0.7],[5.2,0.3,0.4],[5.4,0.3,0.4],[5.6,0.2,0.3],[5.7,0.5,0.8],[5.8,1,1.5],[5.9,1.2,1.6],[6.0,1.2,1.4],[6.2,1,1.3],
  [6.4,0.8,1],[6.5,0.8,0.9],[6.6,0.4,0.6],[6.7,0.3,0.5],[6.8,0.3,0.6],[6.9,0.5,0.7],[7.0,0.2,0.4],[7.2,0.5,0.7],[7.4,0.4,0.6],[7.5,0.6,0.8],[7.6,0.7,1],
  [7.7,0.8,1.2],[7.8,1.3,1.8],[7.9,1.3,1.5],[8.0,1.3,1.5],[8.2,1,1.2],[8.4,1.2,1.5],[8.6,1.2,1.5],[8.8,1.3,1.5],[9.0,1.3,1.5],[9.2,1.2,1.5],[9.3,1.1,1.3],
  [9.4,1.6,1.9],[9.5,1.4,1.8],[9.6,2,2.4],[9.7,2.5,2.8],[9.8,3,3.2],[10.0,3.2,3.4],[10.1,3.4,3.9],[10.2,3.1,3.7],[10.3,3.5,4.0],[10.4,5,5.2],
  [10.5,4.6,4.9],[10.6,4.6,4.8],[10.7,4.7,4.8],[10.8,4,4.5],[10.9,3.3,3.6],[11.0,2.8,3.3],[11.1,3.2,3.4],[11.3,3.2,3.4],[11.5,2.8,3.1],[11.6,1.5,2.5],
  [11.7,0.8,1.3],[11.8,0.6,0.9],[11.9,0.4,0.7],[12.0,0.6,1.5],[12.1,1.8,2.8],[12.15,2.5,3.7],[12.2,1,2],[12.3,0.5,3.5],[12.4,0.6,1.2],[12.5,0.2,0.7],
  [12.6,0.5,1.5],[12.7,0.3,1.2],[12.8,1,2.5],[12.9,0.2,0.3],[12.97,0.2,0.5]];
const chPts = [[10.05,9.0],[10.05,8.5],[10.1,8.2],[12.15,6.3],[12.3,5.8],[12.3,4.8],[11.4,6.0],[8.3,2.9],[12.97,4.6],[12.6,4.4]];

const obsSeries = [[frObs, frObs2], [nwObs], [cmObs], [lwObs], [sjObs, sjObs2], [spObs], [ykObs], [lsObs], [blObs], [chObs]];
const modelSeries = [frModel, nwModel, cmModel, lwModel, sjModel, spModel, ykModel, lsModel, blModel, chModel];
const obsPoints = [frPts, nwPts, cmPts, lwPts, sjPts, spPts, ykPts, lsPts, blPts, chPts];

// ---- drawing ----
// the drawing lives in a 4000x5000 viewBox, stretched to whatever viewport we get
const svg = d3.select("#fig");
const W = 1817, H = 805;
const colX = [154, 2155];
const rowY = [86, 1032, 1978, 2924, 3871];

// textures: dense obs dots and tidal model wiggle
const defs = svg.append("defs");
const dots = defs.append("pattern").attr("id", "obsDots")
  .attr("patternUnits", "userSpaceOnUse").attr("width", 8).attr("height", 8);
dots.append("circle").attr("cx", 2).attr("cy", 2).attr("r", 3.6).attr("fill", "red");
dots.append("circle").attr("cx", 6).attr("cy", 6).attr("r", 3.6).attr("fill", "red");
const tide = defs.append("pattern").attr("id", "tide")
  .attr("patternUnits", "userSpaceOnUse").attr("width", 5).attr("height", 10);
tide.append("path").attr("d", "M0,0 L5,4 M5,6 L0,10")
  .attr("fill", "none").attr("stroke", "blue").attr("stroke-width", 1.8);

// month.fraction -> UTC date
const mdate = t => {
  const m = Math.floor(t);
  const a = Date.UTC(2017, m - 1, 1), b = Date.UTC(2017, m, 1);
  return new Date(a + (t - m) * (b - a));
};
const x = d3.scaleUtc()
  .domain([new Date(Date.UTC(2017, 0, 1)), new Date(Date.UTC(2017, 11, 30, 12))])
  .range([0, W]);
const lo = d => d[1];
const hi = d => d.length > 2 ? d[2] : d[1];

titles.forEach((title, i) => {
  const g = svg.append("g")
    .attr("transform", `translate(${colX[i % 2]},${rowY[Math.floor(i / 2)]})`);
  const y = d3.scaleLinear().domain(yDomains[i]).range([H, 0]);

  // grid
  g.append("g").selectAll("line").data(monthTicks).enter().append("line")
    .attr("x1", d => x(mdate(d))).attr("x2", d => x(mdate(d)))
    .attr("y1", 0).attr("y2", H)
    .attr("stroke", "#e6e6e6").attr("stroke-width", 2.5);
  g.append("g").selectAll("line").data(yTicks[i]).enter().append("line")
    .attr("x1", 0).attr("x2", W)
    .attr("y1", d => y(d)).attr("y2", d => y(d))
    .attr("stroke", "#e6e6e6").attr("stroke-width", 2.5);

  g.append("clipPath").attr("id", "clip" + i)
    .append("rect").attr("width", W).attr("height", H);
  const plot = g.append("g").attr("clip-path", `url(#clip${i})`);

  const area = d3.area().defined(d => d)
    .x(d => x(mdate(d[0]))).y0(d => y(lo(d))).y1(d => y(hi(d)));
  const edge = f => d3.line().defined(d => d).x(d => x(mdate(d[0]))).y(d => y(f(d)));

  // observations: dotted band with chains of dots along both edges
  obsSeries[i].forEach(s => {
    plot.append("path").attr("d", area(s)).attr("fill", "url(#obsDots)");
    [lo, hi].forEach(f => {
      plot.append("path").attr("d", edge(f)(s))
        .attr("fill", "none").attr("stroke", "red")
        .attr("stroke-width", 7.5).attr("stroke-dasharray", "0.1,5.5")
        .attr("stroke-linecap", "round").attr("stroke-linejoin", "round");
    });
  });
  plot.append("g").selectAll("circle").data(obsPoints[i]).enter().append("circle")
    .attr("cx", d => x(mdate(d[0]))).attr("cy", d => y(d[1]))
    .attr("r", 4).attr("fill", "red");

  // model: tidal texture inside the range, dashed wiggle on top
  const m = modelSeries[i];
  plot.append("path").attr("d", area(m)).attr("fill", "url(#tide)");
  const zig = m.flatMap(d => [[d[0], hi(d)], [d[0], lo(d)]]);
  plot.append("path")
    .attr("d", d3.line().x(d => x(mdate(d[0]))).y(d => y(d[1]))(zig))
    .attr("fill", "none").attr("stroke", "blue")
    .attr("stroke-width", 2).attr("stroke-dasharray", "6,3");

  // axes
  const xAxis = d3.axisBottom(x).tickValues(monthTicks.map(mdate))
    .tickFormat((d, k) => monthTicks[k]).tickSizeOuter(0).tickSize(12).tickPadding(8);
  const fmt = yTicks[i].some(v => v % 1) ? d3.format(".1f") : d3.format("d");
  const yAxis = d3.axisLeft(y).tickValues(yTicks[i]).tickFormat(fmt)
    .tickSizeOuter(0).tickSize(12).tickPadding(8);
  const ax = g.append("g").attr("transform", `translate(0,${H})`).call(xAxis);
  const ay = g.append("g").call(yAxis);
  [ax, ay].forEach(a => {
    a.select(".domain").remove();
    a.selectAll("line").attr("stroke", "#000").attr("stroke-width", 2.5);
    a.selectAll("text").attr("font-size", 34).attr("fill", "#000")
      .attr("font-family", "DejaVu Sans, sans-serif");
  });

  g.append("rect").attr("width", W).attr("height", H)
    .attr("fill", "none").attr("stroke", "#000").attr("stroke-width", 2.5);

  g.append("text").attr("x", W / 2).attr("y", -20)
    .attr("text-anchor", "middle").attr("font-size", 35).text(title);
  g.append("text").attr("transform", `translate(${-102},${H / 2}) rotate(-90)`)
    .attr("text-anchor", "middle").attr("font-size", 35).text("Salinity (PSU)");
  g.append("text").attr("x", 0.04 * W).attr("y", 71).attr("dy", "0.35em")
    .attr("font-size", 26).attr("font-weight", "bold")
    .text(`sensor z=${sensorZ[i]} m (below datum), tz=GMT`);

  // legend on the first panel only
  if (i === 0) {
    const lg = g.append("g").attr("transform", `translate(${1677 - colX[0]},${100 - rowY[0]})`);
    lg.append("rect").attr("width", 275).attr("height", 93).attr("rx", 8)
      .attr("fill", "#fff").attr("fill-opacity", 0.8)
      .attr("stroke", "#cccccc").attr("stroke-width", 3);
    lg.append("circle").attr("cx", 37).attr("cy", 23).attr("r", 4.5).attr("fill", "red");
    lg.append("line").attr("x1", 10).attr("x2", 62).attr("y1", 65).attr("y2", 65)
      .attr("stroke", "blue").attr("stroke-width", 2.5).attr("stroke-dasharray", "6,3");
    lg.append("text").attr("x", 89).attr("y", 23).attr("dy", "0.35em")
      .attr("font-size", 27).text("Obs");
    lg.append("text").attr("x", 89).attr("y", 65).attr("dy", "0.35em")
      .attr("font-size", 27).text("RUN100f_NE");
  }
});

svg.append("text").attr("x", 2006).attr("y", 4958)
  .attr("text-anchor", "middle").attr("font-size", 41).text("Month of 2017");
</script>
</body>
</html>
